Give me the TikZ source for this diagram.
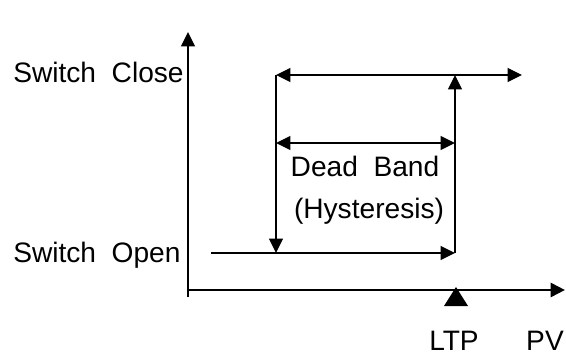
\documentclass[tikz,border=0pt]{standalone}
\usepackage{fontspec}
\setmainfont{Liberation Sans}
\usetikzlibrary{arrows.meta}

\begin{document}
\begin{tikzpicture}[x=0.025cm,y=0.025cm,
		>={Triangle[length=0.36cm,width=0.35cm]},
		line/.style={line width=1pt},
		axis/.style={line width=2pt},
		lbl/.style={font=\fontsize{20}{24}\selectfont,inner sep=0pt}]
   \useasboundingbox (0,0) rectangle (566,356);

   % axes
   \coordinate (yb) at (188,59);
   \coordinate (yt) at (188,324);
   \coordinate (o)  at (188,66);
   \coordinate (xe) at (565,66);
   \draw [line,->] (yb) -- (yt);
   \draw [axis,->] (o) -- (xe);

   % switching loop
   \coordinate (cl) at (276,281);
   \coordinate (cr) at (522,281);
   \coordinate (lo) at (276,103);
   \coordinate (ol) at (211,103);
   \coordinate (ro) at (455,103);
   \coordinate (rc) at (455,281);
   \draw [line,<->] (cl) -- (cr);
   \draw [line,->] (cl) -- (lo);
   \draw [line,->] (ol) -- (ro);
   \draw [line,->] (ro) -- (rc);

   % dead band
   \coordinate (dl) at (276,213);
   \coordinate (dr) at (455,213);
   \draw [line,<->] (dl) -- (dr);
   \node [lbl,anchor=base] (db)  at (365,179) {Dead\ \ Band};
   \node [lbl,anchor=base] (hys) at (369,137) {(Hysteresis)};

   % state labels
   \node [lbl,anchor=base west] (close) at (13,273) {Switch\ \ Close};
   \node [lbl,anchor=base west] (open)  at (13,94)  {Switch\ \ Open};

   % trip point marker
   \fill (456,69) -- (444,50) -- (468,50) -- cycle;
   \node [lbl,anchor=base] (ltp) at (454,6) {LTP};
   \node [lbl,anchor=base] (pv)  at (545,6) {PV};
\end{tikzpicture}
\end{document}
